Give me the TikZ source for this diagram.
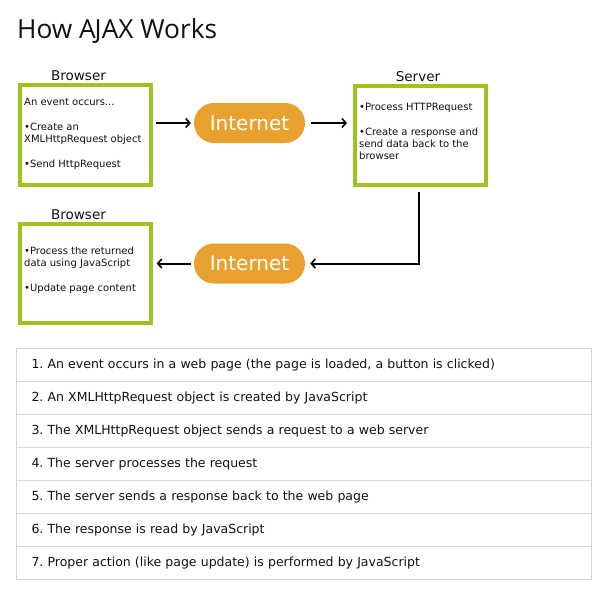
\documentclass[tikz,border=0pt]{standalone}
\usepackage{fontspec}
\setmainfont{DejaVu Sans}
\newfontfamily\titlefont{Open Sans}
\usetikzlibrary{arrows.meta}
\frenchspacing
\definecolor{boxgreen}{HTML}{9CC31E}
\definecolor{netorange}{HTML}{E8A12E}
\definecolor{tblline}{HTML}{D5D5D5}
\definecolor{txt}{HTML}{111111}
\newcommand{\fl}{\rule{0pt}{9pt}}
\begin{document}
\begin{tikzpicture}[x=1pt,y=-1pt,
  gbox/.style={draw=boxgreen,line width=4pt,fill=white,minimum width=131pt,minimum height=99.5pt,inner sep=0pt},
  net/.style={fill=netorange,rounded corners=20pt,minimum width=111pt,minimum height=40pt,inner sep=0pt,text=white,font=\fontsize{20}{24}\selectfont},
  lbl/.style={font=\fontsize{13.5}{16}\selectfont,text=txt,anchor=base,inner sep=0pt},
  btxt/.style={font=\fontsize{10}{12.4}\selectfont,text=txt,anchor=north west,align=left,inner sep=0pt},
  arr/.style={line width=2pt,-{Straight Barb[length=4pt,width=9pt,line width=1.6pt]}},
  trow/.style={draw=tblline,line width=1pt,minimum width=574.5pt,minimum height=33pt,text width=544.5pt,inner xsep=15pt,inner ysep=0pt,align=left,anchor=north west,font=\fontsize{12.5}{15}\selectfont,text=txt}]
\useasboundingbox (0,0) rectangle (614,597);
\node[anchor=base west,inner sep=0pt,font=\titlefont\fontsize{26.3}{30}\selectfont,text=txt] (title) at (17,38) {How A\kern-1.2pt JAX Works};
% boxes
\node[gbox] (b1) at (85.2,135.2) {};
\node[gbox] (srv) at (420.5,135.5) {};
\node[gbox] (b2) at (85.2,273.3) {};
\node[lbl] (lb1) at (78.5,80.5) {Browser};
\node[lbl] (lsrv) at (418,81.5) {Server};
\node[lbl] (lb2) at (78.5,219) {Browser};
\node[btxt] (t1) at (24,96) {\fl An event occurs...\\[12.5pt]•Create an\\XMLHttpRequest object\\[12.5pt]•Send HttpRequest};
\node[btxt] (t2) at (359,101) {\fl•Process HTTPRequest\\[12.5pt]•Create a response and\\send data back to the\\browser};
\node[btxt] (t3) at (24,245.3) {\fl•Process the returned\\data using JavaScript\\[12.5pt]•Update page content};
% internet
\node[net] (i1) at (249.5,123) {Internet};
\node[net] (i2) at (249.5,263.5) {Internet};
\coordinate (corner) at (419,263.5);
% arrows
\draw[arr,shorten <=3pt,shorten >=3pt] (i1.west -| b1.east) -- (i1.west);
\draw[arr,shorten <=6pt,shorten >=6pt] (i1.east) -- (i1.east -| srv.west);
\draw[arr,shorten <=5pt,shorten >=5pt] (srv.south -| corner) -- (corner) -- (i2.east);
\draw[arr,shorten <=3pt,shorten >=4pt] (i2.west) -- (i2.west -| b2.east);
% table
\node[trow] (r1) at (16,348.3) {\strut 1. An event occurs in a web page (the page is loaded, a button is clicked)};
\node[trow] (r2) at (16,381.3) {\strut 2. An XMLHttpRequest object is created by JavaScript};
\node[trow] (r3) at (16,414.3) {\strut 3. The XMLHttpRequest object sends a request to a web server};
\node[trow] (r4) at (16,447.3) {\strut 4. The server processes the request};
\node[trow] (r5) at (16,480.3) {\strut 5. The server sends a response back to the web page};
\node[trow] (r6) at (16,513.3) {\strut 6. The response is read by JavaScript};
\node[trow] (r7) at (16,546.3) {\strut 7. Proper action (like page update) is performed by JavaScript};
\end{tikzpicture}
\end{document}
